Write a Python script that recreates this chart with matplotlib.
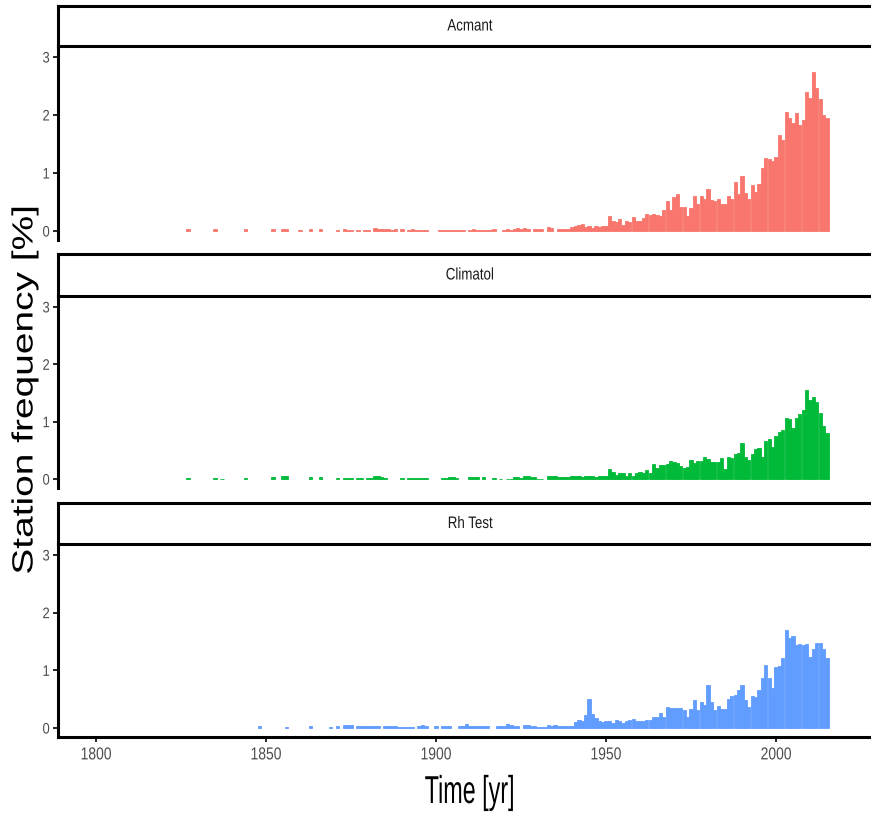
import numpy as np
import matplotlib
matplotlib.use("Agg")
import matplotlib.pyplot as plt
from matplotlib import patheffects
from matplotlib.transforms import Affine2D

# station frequency [%] per year, 1820-2015
years = np.arange(1820, 2016)

acmant = [
    0, 0, 0, 0, 0, 0, 0, 0.03, 0, 0,
    0, 0, 0, 0, 0, 0.03, 0, 0, 0, 0,
    0, 0, 0, 0, 0.03, 0, 0, 0, 0, 0,
    0, 0, 0.03, 0, 0, 0.04, 0.04, 0, 0, 0,
    0.02, 0, 0, 0.03, 0, 0, 0.03, 0, 0, 0,
    0, 0.02, 0, 0.03, 0.02, 0.02, 0, 0.02, 0, 0.02,
    0.02, 0, 0.06, 0.03, 0.04, 0.03, 0.03, 0.02, 0.03, 0,
    0.03, 0, 0.02, 0.03, 0.02, 0.02, 0.02, 0.02, 0, 0,
    0, 0.02, 0.02, 0.02, 0.02, 0.02, 0.02, 0.02, 0.02, 0,
    0.02, 0.03, 0.02, 0.02, 0.02, 0.02, 0.02, 0.03, 0, 0,
    0.02, 0.03, 0.02, 0.03, 0.05, 0.03, 0.05, 0.03, 0, 0.03,
    0.03, 0.03, 0, 0.07, 0.06, 0, 0.03, 0.03, 0.04, 0.03,
    0.07, 0.09, 0.10, 0.12, 0.07, 0.08, 0.06, 0.08, 0.07, 0.09,
    0.08, 0.26, 0.17, 0.15, 0.20, 0.10, 0.17, 0.15, 0.25, 0.17,
    0.17, 0.22, 0.30, 0.28, 0.30, 0.28, 0.26, 0.37, 0.52, 0.37,
    0.58, 0.63, 0.41, 0.41, 0.26, 0.40, 0.61, 0.46, 0.61, 0.55,
    0.72, 0.54, 0.52, 0.55, 0.46, 0.46, 0.61, 0.55, 0.85, 0.63,
    0.94, 0.65, 0.56, 0.79, 0.68, 0.81, 1.08, 1.26, 1.25, 1.21,
    1.27, 1.65, 1.57, 2.05, 1.95, 1.86, 2.03, 1.83, 1.91, 2.39,
    2.30, 2.74, 2.47, 2.27, 2.00, 1.94,
]

climatol = [
    0, 0, 0, 0, 0, 0, 0, 0.02, 0, 0,
    0, 0, 0, 0, 0, 0.02, 0, 0.01, 0, 0,
    0, 0, 0, 0, 0.02, 0, 0, 0, 0, 0,
    0, 0, 0.04, 0, 0, 0.05, 0.05, 0, 0, 0,
    0, 0, 0, 0.04, 0, 0, 0.04, 0, 0, 0,
    0, 0.02, 0, 0.02, 0.02, 0.02, 0, 0.02, 0.02, 0,
    0.02, 0.02, 0.05, 0.06, 0.03, 0.02, 0, 0, 0, 0,
    0.02, 0, 0.02, 0.02, 0.02, 0.02, 0.02, 0.02, 0, 0,
    0, 0, 0.02, 0.02, 0.04, 0.03, 0.02, 0, 0, 0,
    0.03, 0.03, 0.03, 0, 0.03, 0, 0, 0.02, 0, 0.01,
    0, 0.01, 0.01, 0.03, 0.03, 0.02, 0.05, 0.05, 0.03, 0.03,
    0.01, 0.01, 0, 0.06, 0.06, 0.06, 0.03, 0.03, 0.03, 0.03,
    0.05, 0.05, 0.05, 0.03, 0.05, 0.05, 0.05, 0.04, 0.06, 0.06,
    0.06, 0.17, 0.12, 0.08, 0.10, 0.10, 0.06, 0.10, 0.06, 0.10,
    0.12, 0.10, 0.15, 0.10, 0.26, 0.20, 0.24, 0.24, 0.26, 0.32,
    0.30, 0.28, 0.22, 0.20, 0.21, 0.34, 0.28, 0.32, 0.32, 0.39,
    0.35, 0.30, 0.30, 0.30, 0.37, 0.17, 0.39, 0.37, 0.44, 0.46,
    0.63, 0.39, 0.34, 0.44, 0.52, 0.55, 0.39, 0.67, 0.69, 0.56,
    0.75, 0.82, 0.86, 1.06, 1.05, 0.89, 1.06, 1.14, 1.21, 1.56,
    1.38, 1.43, 1.34, 1.16, 0.92, 0.81,
]

rh_test = [
    0, 0, 0, 0, 0, 0, 0, 0, 0, 0,
    0, 0, 0, 0, 0, 0, 0, 0, 0, 0,
    0, 0, 0, 0, 0, 0, 0, 0, 0.03, 0,
    0, 0, 0, 0, 0, 0, 0.01, 0, 0, 0,
    0, 0, 0, 0.03, 0, 0, 0, 0, 0, 0.01,
    0, 0.04, 0, 0.05, 0.05, 0.06, 0, 0.03, 0.03, 0.03,
    0.03, 0.03, 0.03, 0.03, 0, 0.03, 0.03, 0.04, 0.03, 0.02,
    0.02, 0.02, 0.02, 0.02, 0, 0.03, 0.05, 0.03, 0, 0,
    0.04, 0, 0.03, 0.03, 0.03, 0, 0, 0.04, 0.04, 0.07,
    0.04, 0.04, 0.04, 0.04, 0.04, 0.04, 0, 0, 0.03, 0.03,
    0.03, 0.07, 0.05, 0.03, 0.03, 0, 0.05, 0.05, 0.03, 0.03,
    0.02, 0.02, 0.02, 0.05, 0.03, 0.05, 0.03, 0.03, 0.03, 0.04,
    0.04, 0.11, 0.14, 0.12, 0.22, 0.50, 0.25, 0.18, 0.12, 0.10,
    0.12, 0.12, 0.08, 0.14, 0.12, 0.08, 0.12, 0.14, 0.16, 0.12,
    0.12, 0.12, 0.14, 0.14, 0.19, 0.19, 0.26, 0.19, 0.37, 0.34,
    0.35, 0.35, 0.35, 0.32, 0.20, 0.33, 0.48, 0.32, 0.46, 0.40,
    0.75, 0.46, 0.32, 0.39, 0.33, 0.33, 0.50, 0.56, 0.58, 0.66,
    0.75, 0.48, 0.37, 0.55, 0.54, 0.66, 0.87, 1.10, 0.87, 0.70,
    1.05, 1.08, 1.21, 1.70, 1.56, 1.60, 1.44, 1.46, 1.44, 1.46,
    1.24, 1.37, 1.47, 1.48, 1.37, 1.21,
]

methods = ["Acmant", "Climatol", "Rh Test"]
series = [acmant, climatol, rh_test]
colors = ["#F8766D", "#00BA38", "#619CFF"]

plt.rcParams["font.family"] = ["Liberation Sans", "DejaVu Sans"]


class Squeeze(patheffects.AbstractPathEffect):
    """Draw text narrower in display x, keeping it centred on itself."""

    def __init__(self, sx):
        super().__init__()
        self.sx = sx

    def draw_path(self, renderer, gc, tpath, affine, rgbFace=None):
        ext = tpath.get_extents(affine)
        cx = ext.x0 + ext.width / 2
        squash = Affine2D().translate(-cx, 0).scale(self.sx, 1).translate(cx, 0)
        renderer.draw_path(gc, tpath, affine + squash, rgbFace)


W, H = 871, 815
fig = plt.figure(figsize=(W / 100, H / 100), dpi=100)


def box(x0, y0, x1, y1):
    # pixel rectangle (top-left origin) -> figure fraction
    return [x0 / W, 1 - y1 / H, (x1 - x0) / W, (y1 - y0) / H]


left, right = 58, 882
strips = [(6, 46), (254, 296), (503, 544)]
panels = [(46, 240), (296, 488), (544, 737)]
px_per_year = 3.4
xlim = (1800 - (96 - left) / px_per_year, 2000 + (right - 776) / px_per_year)

for i, (name, vals, col) in enumerate(zip(methods, series, colors)):
    ax = fig.add_axes(box(left, panels[i][0], right, panels[i][1]))
    vals = np.asarray(vals)
    has = vals > 0
    # thin same-colour edge closes the hairline gaps between adjacent years
    ax.bar(years[has], vals[has], width=1.0, color=col, edgecolor=col,
           linewidth=0.6)
    ax.set_xlim(*xlim)
    ax.set_ylim(-0.155, 3.19)
    ax.set_yticks([0, 1, 2, 3])
    for s in ["top", "right"]:
        ax.spines[s].set_visible(False)
    ax.spines["left"].set_linewidth(2.2)
    ax.spines["left"].set_color("black")
    ax.tick_params(axis="y", length=3.5, width=1.2, colors="black",
                   labelcolor="#4D4D4D", labelsize=11, pad=2)
    for lab in ax.get_yticklabels():
        lab.set_path_effects([Squeeze(0.85)])
    if i < 2:
        ax.spines["bottom"].set_visible(False)
        ax.tick_params(axis="x", bottom=False, labelbottom=False)
    else:
        ax.spines["bottom"].set_linewidth(2.2)
        ax.set_xticks([1800, 1850, 1900, 1950, 2000])
        ax.tick_params(axis="x", length=3.5, width=1.2, colors="black",
                       labelcolor="#4D4D4D", labelsize=12.5, pad=4)
        for lab in ax.get_xticklabels():
            lab.set_path_effects([Squeeze(0.8)])

    # facet strip
    sx = fig.add_axes(box(left, strips[i][0], right, strips[i][1]))
    sx.set_xticks([])
    sx.set_yticks([])
    for s in sx.spines.values():
        s.set_linewidth(2.2)
        s.set_color("black")
    sx.text(0.5, 0.5, name, transform=sx.transAxes, ha="center", va="center",
            fontsize=12, color="#1A1A1A", path_effects=[Squeeze(0.8)])

fig.text(25 / W, 1 - 390 / H, "Station frequency [%]", rotation=90,
         ha="center", va="center", fontsize=28, path_effects=[Squeeze(0.75)])
fig.text(470 / W, 1 - 793 / H, "Time [yr]", ha="center", va="center",
         fontsize=28, path_effects=[Squeeze(0.6)])

fig.savefig("out.png", dpi=100)
